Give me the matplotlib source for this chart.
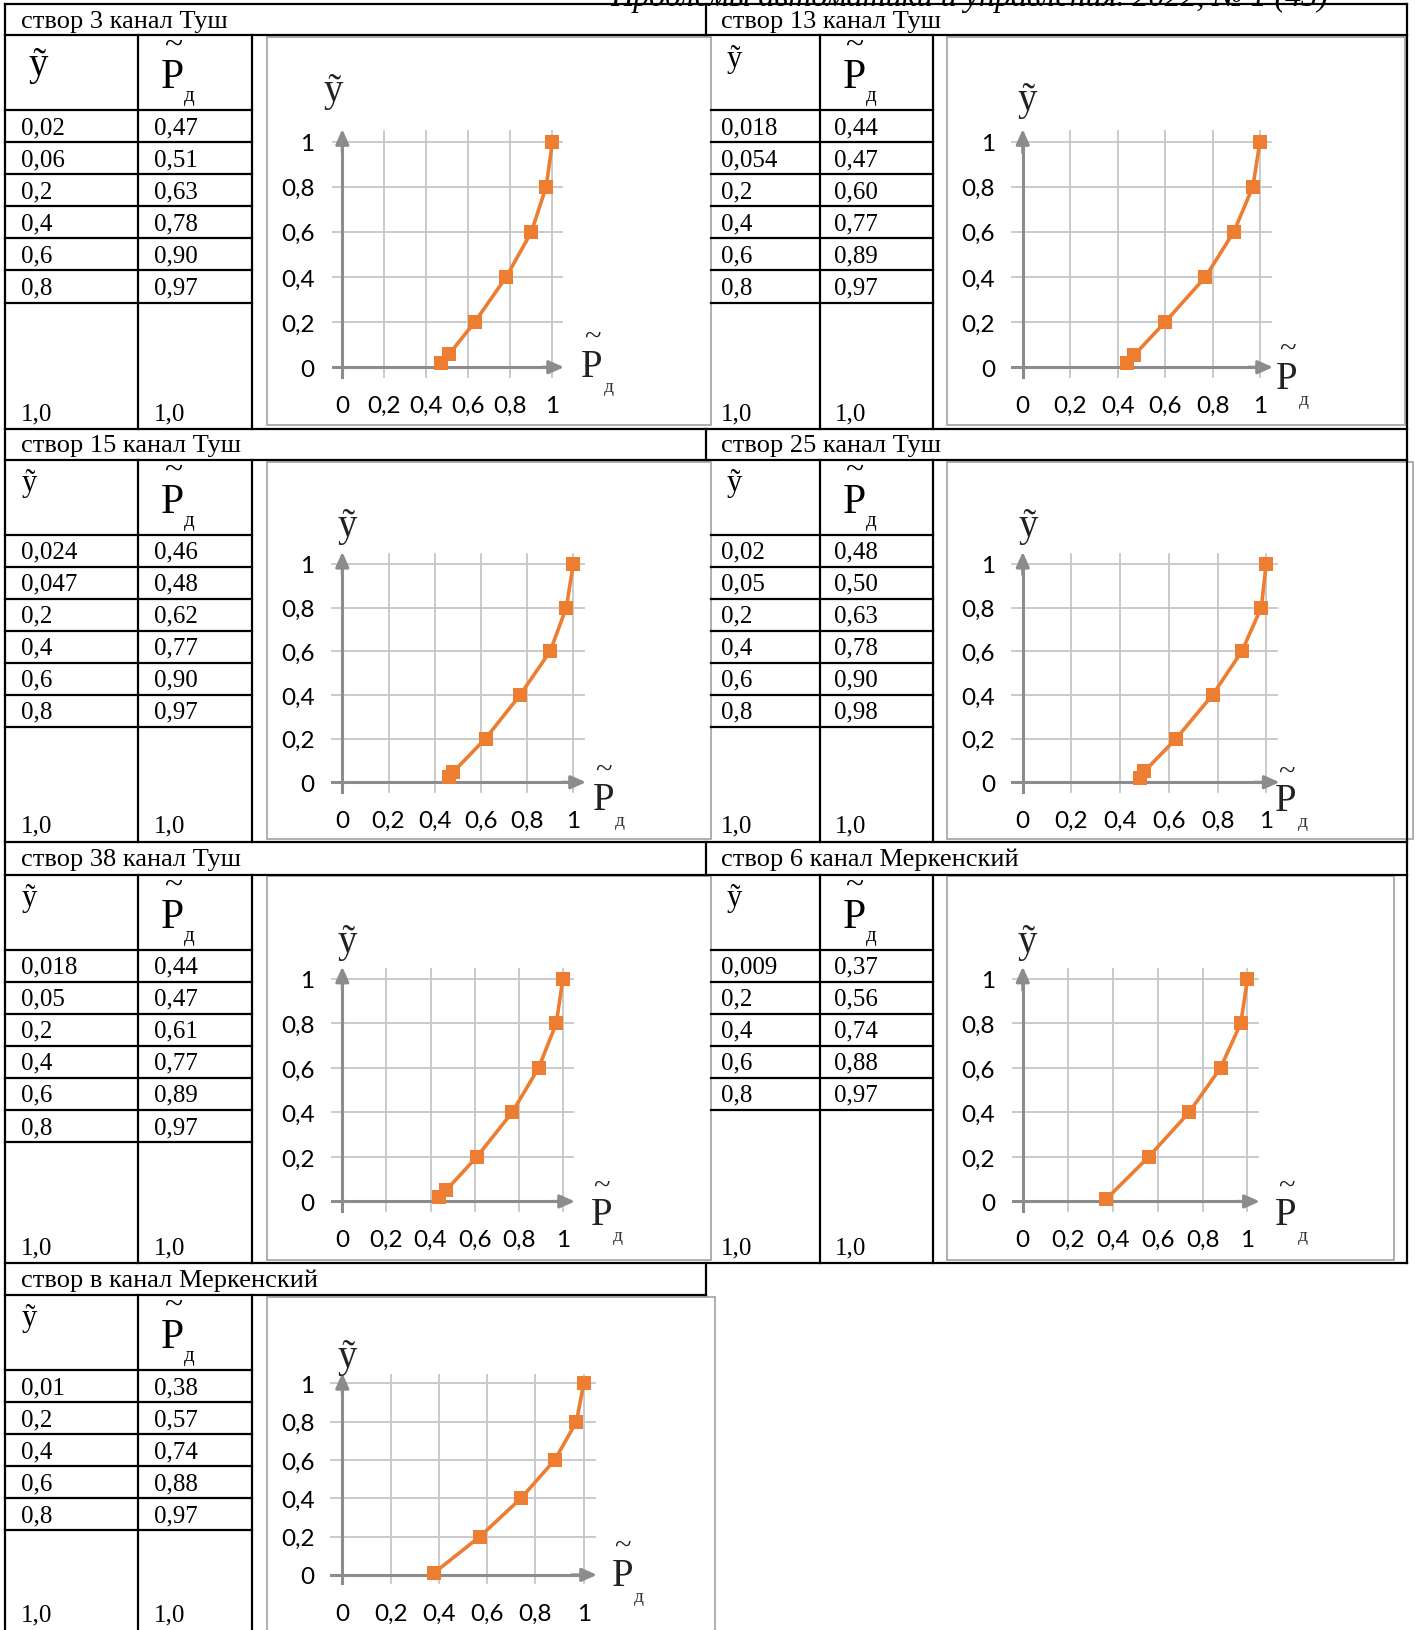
import matplotlib
matplotlib.use('Agg')
import matplotlib.pyplot as plt
from matplotlib.lines import Line2D
from matplotlib.patches import Rectangle

# ---------------- data ----------------
titles = ["створ 3 канал Туш", "створ 13 канал Туш", "створ 15 канал Туш",
          "створ 25 канал Туш", "створ 38 канал Туш", "створ 6 канал Меркенский",
          "створ в канал Меркенский"]

y_s3 = ["0,02", "0,06", "0,2", "0,4", "0,6", "0,8", "1,0"]
p_s3 = ["0,47", "0,51", "0,63", "0,78", "0,90", "0,97", "1,0"]
y_s13 = ["0,018", "0,054", "0,2", "0,4", "0,6", "0,8", "1,0"]
p_s13 = ["0,44", "0,47", "0,60", "0,77", "0,89", "0,97", "1,0"]
y_s15 = ["0,024", "0,047", "0,2", "0,4", "0,6", "0,8", "1,0"]
p_s15 = ["0,46", "0,48", "0,62", "0,77", "0,90", "0,97", "1,0"]
y_s25 = ["0,02", "0,05", "0,2", "0,4", "0,6", "0,8", "1,0"]
p_s25 = ["0,48", "0,50", "0,63", "0,78", "0,90", "0,98", "1,0"]
y_s38 = ["0,018", "0,05", "0,2", "0,4", "0,6", "0,8", "1,0"]
p_s38 = ["0,44", "0,47", "0,61", "0,77", "0,89", "0,97", "1,0"]
y_m6 = ["0,009", "0,2", "0,4", "0,6", "0,8", "1,0"]
p_m6 = ["0,37", "0,56", "0,74", "0,88", "0,97", "1,0"]
y_mv = ["0,01", "0,2", "0,4", "0,6", "0,8", "1,0"]
p_mv = ["0,38", "0,57", "0,74", "0,88", "0,97", "1,0"]

tick_vals = [0, 0.2, 0.4, 0.6, 0.8, 1]
tick_labels = ["0", "0,2", "0,4", "0,6", "0,8", "1"]
journal = "Проблемы автоматики и управления. 2022, № 1 (43)"

series_y = [y_s3, y_s13, y_s15, y_s25, y_s38, y_m6, y_mv]
series_p = [p_s3, p_s13, p_s15, p_s25, p_s38, p_m6, p_mv]

# ---------------- layout ----------------
W, H = 1360.0, 1568.0
fig = plt.figure(figsize=(14.15, 16.31), dpi=100)
fig.patch.set_facecolor('white')

def fx(x): return x / W
def fy(y): return 1 - y / H

SERIF = ['Liberation Serif', 'DejaVu Serif']
SANS = ['Lato', 'DejaVu Sans']
ORANGE = '#ED7D31'
GRID = '#C6C6C6'
AXC = '#8C8C8C'
BOX = '#A8A8A8'

def line(x1, y1, x2, y2, color='black', lw=1.6):
    fig.add_artist(Line2D([fx(x1), fx(x2)], [fy(y1), fy(y2)],
                          transform=fig.transFigure, color=color, lw=lw,
                          solid_capstyle='projecting'))

def ftext(x, y, s, **kw):
    fig.text(fx(x), fy(y), s, **kw)

rows_top = [5, 413, 810, 1215]
rows_hb = [35, 443, 842, 1246]
rows_bot = [413, 810, 1215, 1568]
ROWH = 30.8

# panel: (row, side, chart box, data rect (x0,x1,y0,y1), ylabel pos, plabel pos, big header)
panels = [
    (0, 'L', (257, 683, 37, 410), (329, 531, 354, 137), (320, 88), (569, 350), True),
    (0, 'R', (910, 1350, 37, 410), (983, 1211, 354, 137), (987, 97), (1237, 362), False),
    (1, 'L', (257, 683, 445, 808), (329, 551, 753, 543), (334, 506), (580, 767), False),
    (1, 'R', (910, 1358, 445, 808), (983, 1217, 753, 543), (988, 506), (1236, 768), False),
    (2, 'L', (257, 683, 843, 1212), (329, 541, 1156, 942), (334, 906), (578, 1166), False),
    (2, 'R', (910, 1340, 843, 1212), (983, 1199, 1156, 942), (987, 906), (1236, 1166), False),
    (3, 'L', (257, 687, 1248, 1575), (329, 561, 1515, 1331), (334, 1305), (598, 1513), False),
]

# ---- outer / header lines ----
line(5, 5, 1352, 5)
line(5, 35, 1352, 35)
line(5, 413, 1352, 413)
line(5, 443, 1352, 443)
line(5, 810, 1352, 810)
line(5, 842, 1352, 842)
line(5, 1215, 1352, 1215)
line(5, 1246, 679, 1246)
line(5, 5, 5, 1575)
line(1352, 5, 1352, 1215)
for (t, b) in [(5, 35), (413, 443), (810, 842), (1215, 1246)]:
    line(679, t, 679, b)

ftext(932, 6, journal, family=SERIF, style='italic', fontsize=23,
      ha='center', va='baseline')

for i, (row, side, box, drect, ylp, plp, big) in enumerate(panels):
    ys_str = series_y[i]
    ps_str = series_p[i]
    hb = rows_hb[row]
    bot = rows_bot[row]
    top = rows_top[row]
    if side == 'L':
        tl, c1, c2 = 5, 133, 242
        hx = 20
        tx, px_ = tl + 15, c1 + 15
    else:
        tl, c1, c2 = 683, 788, 897
        hx = 693
        tx, px_ = tl + 10, c1 + 14
    # header title
    ftext(hx, (top + hb) / 2 + 1, titles[i], family=SERIF, fontsize=19,
          ha='left', va='center')
    # table columns
    line(c1, hb, c1, bot)
    line(c2, hb, c2, bot)
    cell_bot = hb + 72
    n = len(ys_str) - 1
    line(tl, cell_bot, c2, cell_bot)
    for k in range(n):
        yb = cell_bot + (k + 1) * ROWH
        line(tl, yb, c2, yb)
        yc = cell_bot + (k + 0.5) * ROWH
        ftext(tx, yc + 1, ys_str[k], family=SERIF, fontsize=18, ha='left', va='center')
        ftext(px_, yc + 1, ps_str[k], family=SERIF, fontsize=18, ha='left', va='center')
    ftext(tx, min(bot, 1568) - 15, ys_str[-1], family=SERIF, fontsize=18,
          ha='left', va='center')
    ftext(px_, min(bot, 1568) - 15, ps_str[-1], family=SERIF, fontsize=18,
          ha='left', va='center')
    # column headers
    if big:
        ftext(37, hb + 28, "ỹ", family=SERIF, fontsize=28, ha='center', va='center')
    else:
        ftext(tl + 23, hb + 22, "ỹ", family=SERIF, fontsize=22, ha='center', va='center')
    pxc = c1 + 33
    ftext(pxc, hb + 40, "P", family=SERIF, fontsize=30, ha='center', va='center')
    ftext(pxc, hb + 9, "~", family=SERIF, fontsize=24, ha='center', va='center')
    ftext(pxc + 16, hb + 58, "д", family=SERIF, fontsize=15, ha='center', va='center')

    # chart frame
    bx0, bx1, by0, by1 = box
    fig.add_artist(Rectangle((fx(bx0), fy(by1)), fx(bx1) - fx(bx0), fy(by0) - fy(by1),
                             transform=fig.transFigure, fill=False,
                             edgecolor=BOX, lw=1.3))

    # chart axes
    x0, x1, y0, y1 = drect
    ax = fig.add_axes([fx(x0), fy(y0), fx(x1) - fx(x0), fy(y1) - fy(y0)])
    ax.set_xlim(0, 1)
    ax.set_ylim(0, 1)
    ax.patch.set_alpha(0)
    for s in ax.spines.values():
        s.set_visible(False)
    ax.set_xticks(tick_vals, tick_labels)
    ax.set_yticks(tick_vals, tick_labels)
    ax.tick_params(length=0, labelsize=17.5, colors='black')
    ax.tick_params(axis='x', pad=20)
    ax.tick_params(axis='y', pad=20)
    for lab in ax.get_xticklabels() + ax.get_yticklabels():
        lab.set_family(SANS)
    # grid
    for t in tick_vals[1:]:
        ax.plot([t, t], [-0.045, 1.045], color=GRID, lw=1.3, clip_on=False, zorder=1)
        ax.plot([-0.045, 1.045], [t, t], color=GRID, lw=1.3, clip_on=False, zorder=1)
    # axes with arrows
    ax.plot([0, 0], [-0.045, 0.99], color=AXC, lw=2.2, clip_on=False, zorder=2)
    ax.plot([-0.045, 0.99], [0, 0], color=AXC, lw=2.2, clip_on=False, zorder=2)
    ax.annotate('', xy=(1.055, 0), xytext=(0.95, 0), annotation_clip=False,
                arrowprops=dict(arrowstyle='-|>,head_length=0.9,head_width=0.4',
                                color=AXC, lw=2.2, shrinkA=0, shrinkB=0), zorder=2)
    ax.annotate('', xy=(0, 1.055), xytext=(0, 0.95), annotation_clip=False,
                arrowprops=dict(arrowstyle='-|>,head_length=0.9,head_width=0.4',
                                color=AXC, lw=2.2, shrinkA=0, shrinkB=0), zorder=2)
    # data
    yv = [float(s.replace(',', '.')) for s in ys_str]
    pv = [float(s.replace(',', '.')) for s in ps_str]
    ax.plot(pv, yv, color=ORANGE, lw=2.6, marker='s', markersize=10,
            markeredgewidth=0, clip_on=False, zorder=3)

    # axis labels
    ftext(ylp[0], ylp[1], "ỹ", family=SERIF, fontsize=28, ha='center', va='center',
          color='#222222')
    ftext(plp[0], plp[1] + 3, "P", family=SERIF, fontsize=28, ha='center', va='center',
          color='#222222')
    ftext(plp[0], plp[1] - 26, "~", family=SERIF, fontsize=22, ha='center', va='center',
          color='#222222')
    ftext(plp[0] + 16, plp[1] + 23, "д", family=SERIF, fontsize=14, ha='center',
          va='center', color='#333333')

fig.savefig('out.png', dpi=100, facecolor='white')
